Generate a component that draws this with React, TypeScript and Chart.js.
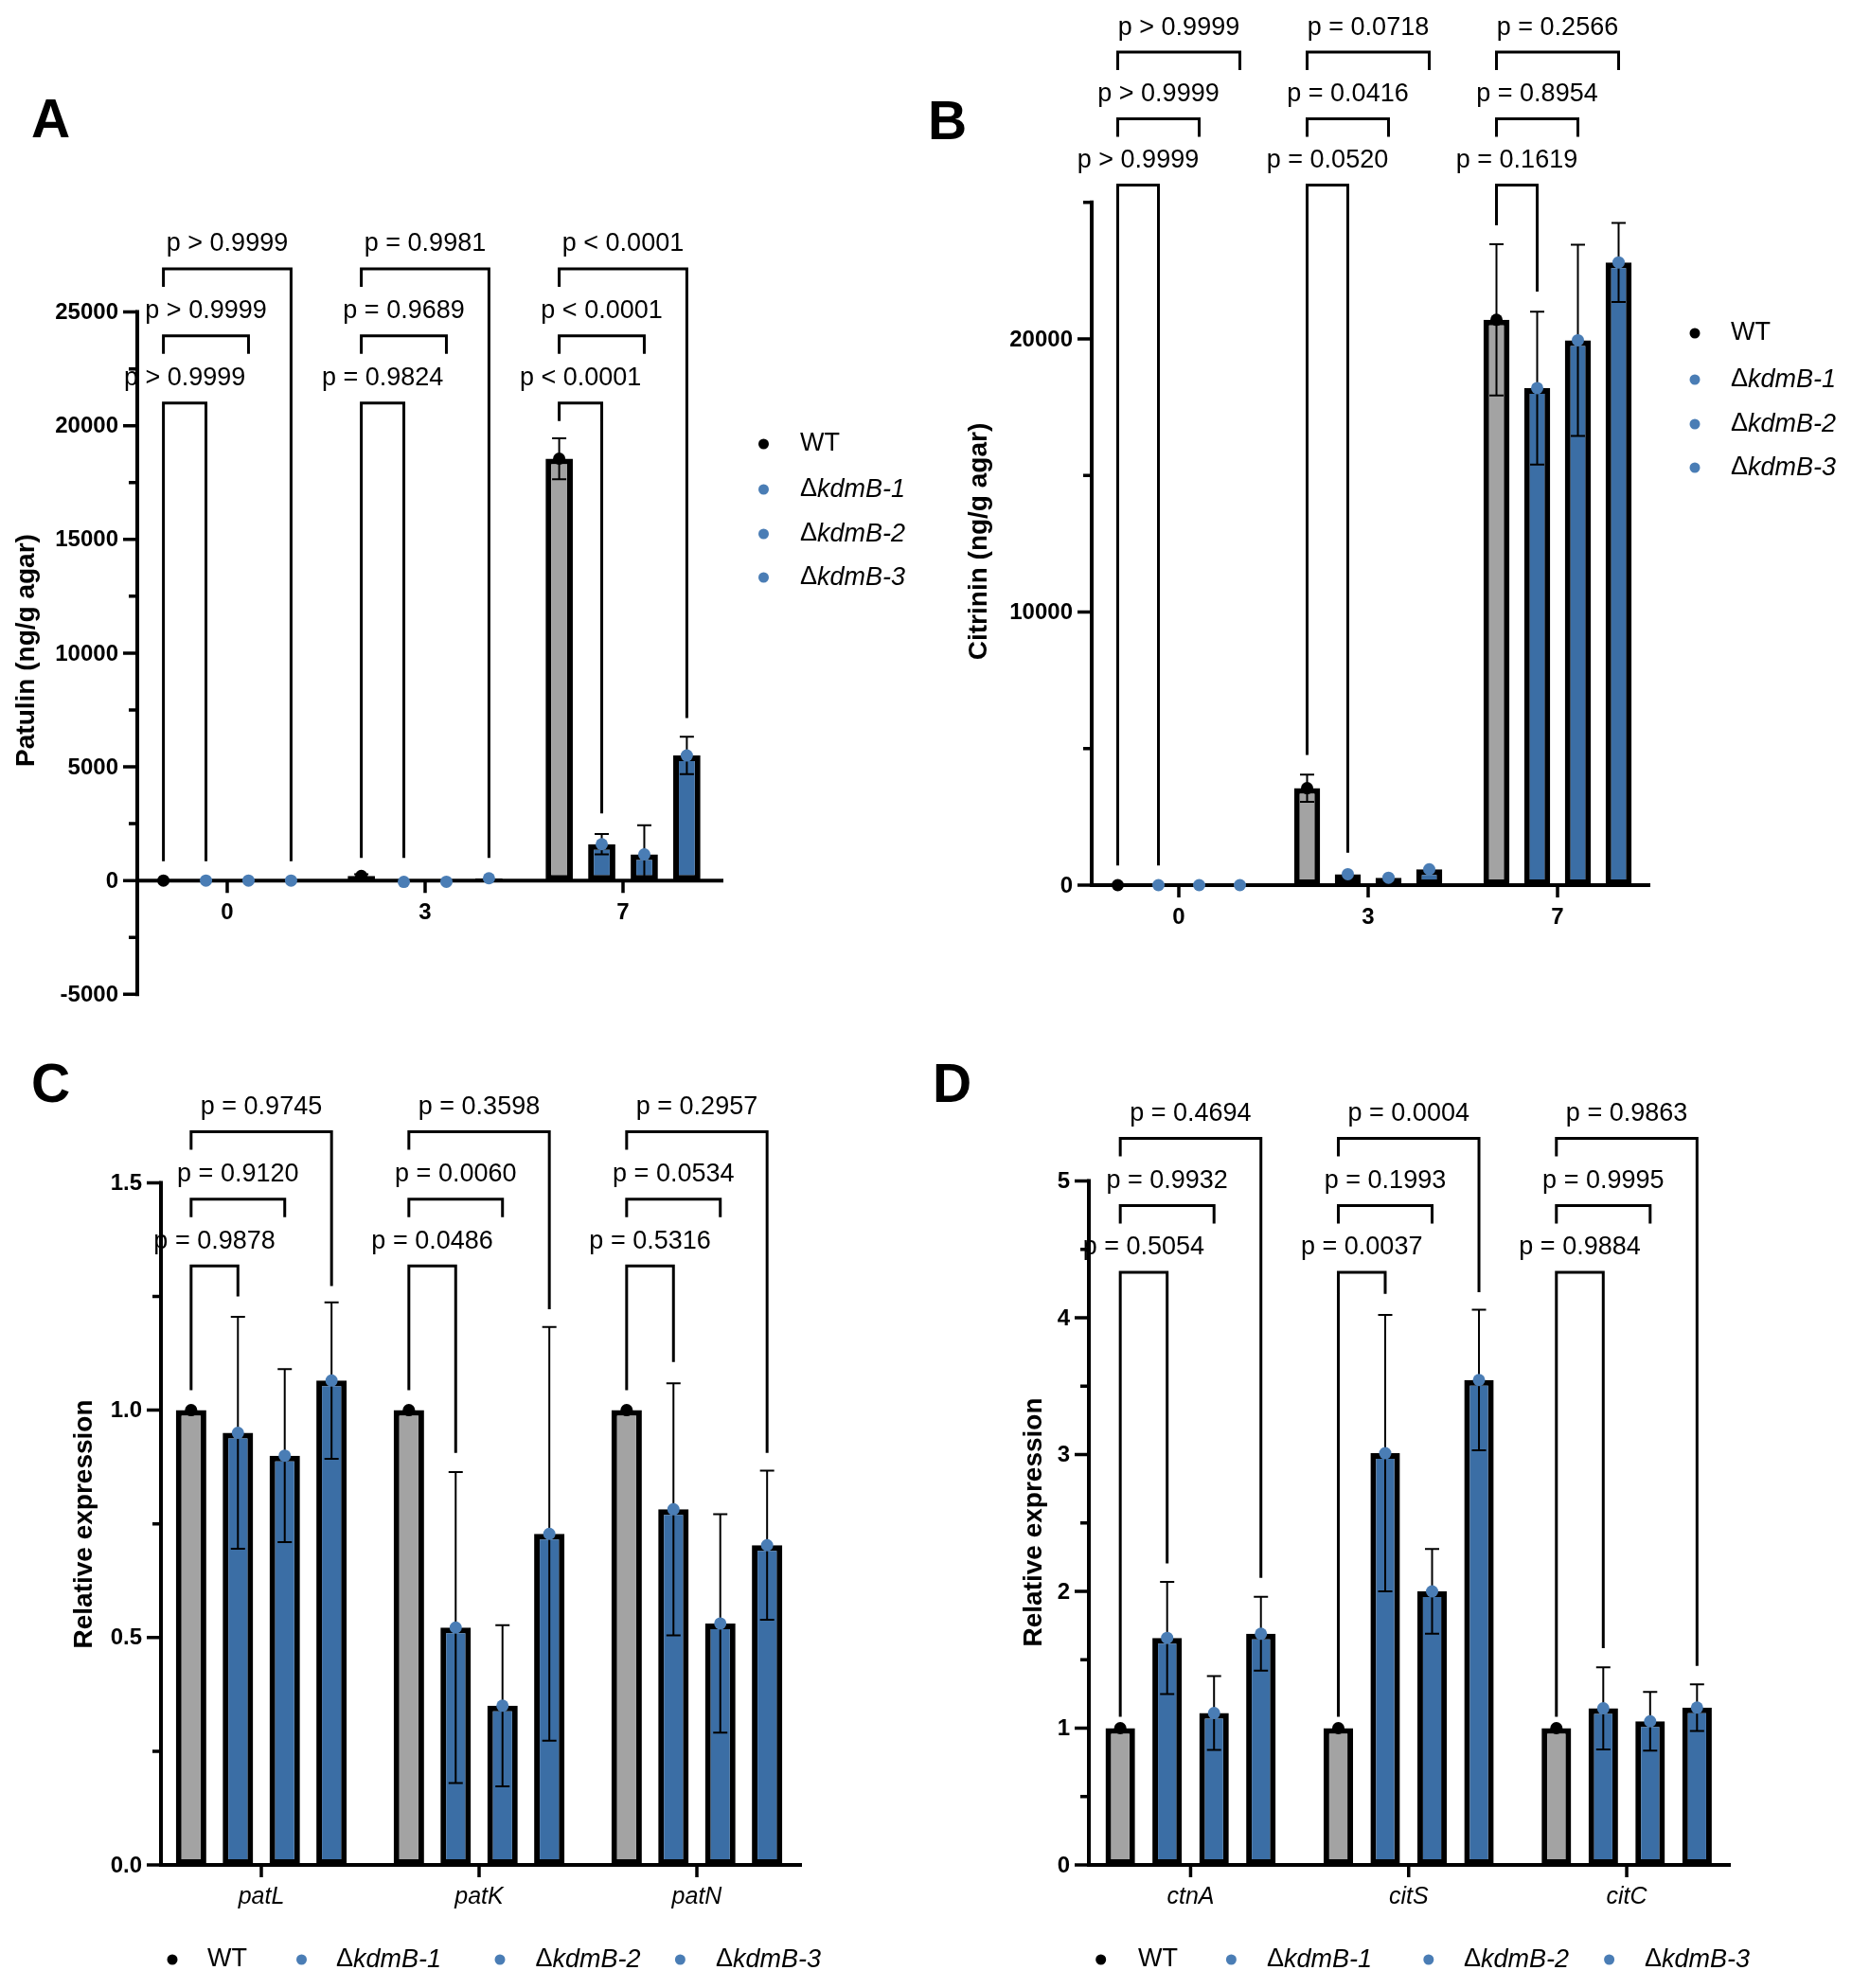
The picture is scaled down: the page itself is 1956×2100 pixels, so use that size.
import React, { useEffect, useRef } from 'react';
import { Chart, registerables } from 'chart.js';

Chart.register(...registerables);

const FONT = '"Liberation Sans", Arial, Helvetica, sans-serif';
const GREY = '#a3a3a3';
const BLUE = '#3b6ea5';
const DOT_BLUE = '#4a7db5';

const seriesLabels = ['WT', 'ΔkdmB-1', 'ΔkdmB-2', 'ΔkdmB-3'];

// ---------- Panel A : Patulin ----------
const daysA = ['0', '3', '7'];
const patulinWT = [0, 200, 18550];
const patulinK1 = [0, -60, 1600];
const patulinK2 = [0, -50, 1150];
const patulinK3 = [0, 100, 5500];
const patulinWTsd = [0, 80, 900];
const patulinK1sd = [0, 0, 450];
const patulinK2sd = [0, 0, 1280];
const patulinK3sd = [0, 0, 820];
const patulinP1 = ['p > 0.9999', 'p = 0.9824', 'p < 0.0001'];
const patulinP2 = ['p > 0.9999', 'p = 0.9689', 'p < 0.0001'];
const patulinP3 = ['p > 0.9999', 'p = 0.9981', 'p < 0.0001'];
const patulinBracketLevels = [21000, 23950, 26900];
const patulinLegs1 = [[850, 850], [1000, 1000], [null, 2950]];
const patulinLegs3 = [[null, 850], [null, 1000], [null, 7150]];
const patulinTicks = [-5000, 0, 5000, 10000, 15000, 20000, 25000];
const patulinMinorTicks = [-2500, 2500, 7500, 12500, 17500, 22500];

// ---------- Panel B : Citrinin ----------
const daysB = ['0', '3', '7'];
const citrininWT = [0, 3550, 20700];
const citrininK1 = [0, 400, 18200];
const citrininK2 = [0, 270, 19950];
const citrininK3 = [0, 580, 22800];
const citrininWTsd = [0, 500, 2770];
const citrininK1sd = [0, 0, 2800];
const citrininK2sd = [0, 0, 3500];
const citrininK3sd = [0, 0, 1450];
const citrininP1 = ['p > 0.9999', 'p = 0.0520', 'p = 0.1619'];
const citrininP2 = ['p > 0.9999', 'p = 0.0416', 'p = 0.8954'];
const citrininP3 = ['p > 0.9999', 'p = 0.0718', 'p = 0.2566'];
const citrininBracketLevels = [25630, 28060, 30500];
const citrininLegs1 = [[715, 715], [4770, 1190], [24160, 21730]];
const citrininTicks = [0, 10000, 20000];
const citrininMinorTicks = [5000, 15000, 25000];

// ---------- Panel C : patulin cluster genes ----------
const genesC = ['patL', 'patK', 'patN'];
const patWT = [1, 1, 1];
const patK1 = [0.95, 0.522, 0.782];
const patK2 = [0.9, 0.35, 0.531];
const patK3 = [1.065, 0.728, 0.703];
const patWTsd = [0, 0, 0];
const patK1sd = [0.255, 0.342, 0.277];
const patK2sd = [0.19, 0.177, 0.24];
const patK3sd = [0.172, 0.455, 0.164];
const patP1 = ['p = 0.9878', 'p = 0.0486', 'p = 0.5316'];
const patP2 = ['p = 0.9120', 'p = 0.0060', 'p = 0.0534'];
const patP3 = ['p = 0.9745', 'p = 0.3598', 'p = 0.2957'];
const patBracketLevels = [1.317, 1.464, 1.612];
const patLegs1 = [[1.044, 1.25], [1.044, 0.906], [1.044, 1.106]];
const patLegs3 = [[null, 1.273], [null, 1.222], [null, 0.906]];
const patTicks = [0, 0.5, 1.0, 1.5];
const patMinorTicks = [0.25, 0.75, 1.25];

// ---------- Panel D : citrinin cluster genes ----------
const genesD = ['ctnA', 'citS', 'citC'];
const citWT = [1, 1, 1];
const citK1 = [1.66, 3.01, 1.145];
const citK2 = [1.11, 2.0, 1.05];
const citK3 = [1.69, 3.545, 1.15];
const citWTsd = [0, 0, 0];
const citK1sd = [0.41, 1.01, 0.3];
const citK2sd = [0.27, 0.31, 0.215];
const citK3sd = [0.27, 0.513, 0.17];
const citP1 = ['p = 0.5054', 'p = 0.0037', 'p = 0.9884'];
const citP2 = ['p = 0.9932', 'p = 0.1993', 'p = 0.9995'];
const citP3 = ['p = 0.4694', 'p = 0.0004', 'p = 0.9863'];
const citBracketLevels = [4.332, 4.82, 5.312];
const citLegs1 = [[1.083, 2.205], [1.083, 4.174], [1.083, 1.584]];
const citLegs3 = [[null, 2.098], [null, 4.187], [null, 1.455]];
const citTicks = [0, 1, 2, 3, 4, 5];
const citMinorTicks = [0.5, 1.5, 2.5, 3.5, 4.5];

const W = 1956;
const H = 2100;

type Legs = (number | null)[][] | null;

interface Panel {
  id: string;
  categories: string[];
  series: number[][];
  errors: number[][];
  pValues: string[][];
  levels: number[];
  legs: Legs[];
  majorTicks: number[];
  minorTicks: number[];
  fmt: (v: number) => string;
  title: string;
  area: { left: number; right: number; top: number; bottom: number };
  yMin: number;
  yMax: number;
  axisX: number;
  xEnd: number;
  catFont: string;
  titlePos: [number, number];
  letterPos: [number, number];
  legend: { kind: 'column'; dotX: number; textX: number; ys: number[] } | { kind: 'row'; y: number; dotXs: number[]; textXs: number[] };
  barPct: number;
}

const panels: Panel[] = [
  {
    id: 'A',
    categories: daysA,
    series: [patulinWT, patulinK1, patulinK2, patulinK3],
    errors: [patulinWTsd, patulinK1sd, patulinK2sd, patulinK3sd],
    pValues: [patulinP1, patulinP2, patulinP3],
    levels: patulinBracketLevels,
    legs: [patulinLegs1, null, patulinLegs3],
    majorTicks: patulinTicks,
    minorTicks: patulinMinorTicks,
    fmt: (v) => String(v),
    title: 'Patulin (ng/g agar)',
    area: { left: 135.5, right: 762.5, top: 161.4, bottom: 1050.3 },
    yMin: -5000,
    yMax: 32000,
    axisX: 145,
    xEnd: 762,
    catFont: `bold 24px ${FONT}`,
    titlePos: [28, 687],
    letterPos: [33, 145],
    legend: { kind: 'column', dotX: 806.5, textX: 845, ys: [469, 517, 564, 610] },
    barPct: 0.64,
  },
  {
    id: 'B',
    categories: daysB,
    series: [citrininWT, citrininK1, citrininK2, citrininK3],
    errors: [citrininWTsd, citrininK1sd, citrininK2sd, citrininK3sd],
    pValues: [citrininP1, citrininP2, citrininP3],
    levels: citrininBracketLevels,
    legs: [citrininLegs1, null, null],
    majorTicks: citrininTicks,
    minorTicks: citrininMinorTicks,
    fmt: (v) => String(v),
    title: 'Citrinin (ng/g agar)',
    area: { left: 1145, right: 1745, top: 11.8, bottom: 935 },
    yMin: 0,
    yMax: 32000,
    axisX: 1153,
    xEnd: 1741,
    catFont: `bold 24px ${FONT}`,
    titlePos: [1034, 572],
    letterPos: [980, 147],
    legend: { kind: 'column', dotX: 1790, textX: 1828, ys: [352, 401, 448, 494] },
    barPct: 0.64,
  },
  {
    id: 'C',
    categories: genesC,
    series: [patWT, patK1, patK2, patK3],
    errors: [patWTsd, patK1sd, patK2sd, patK3sd],
    pValues: [patP1, patP2, patP3],
    levels: patBracketLevels,
    legs: [patLegs1, null, patLegs3],
    majorTicks: patTicks,
    minorTicks: patMinorTicks,
    fmt: (v) => v.toFixed(1),
    title: 'Relative expression',
    area: { left: 161, right: 851, top: 1009.2, bottom: 1970 },
    yMin: 0,
    yMax: 2.0,
    axisX: 170,
    xEnd: 845,
    catFont: `italic 25px ${FONT}`,
    titlePos: [89, 1610],
    letterPos: [33, 1164],
    legend: { kind: 'row', y: 2070, dotXs: [182, 318.5, 528, 718.4], textXs: [219, 355, 565.5, 756] },
    barPct: 0.65,
  },
  {
    id: 'D',
    categories: genesD,
    series: [citWT, citK1, citK2, citK3],
    errors: [citWTsd, citK1sd, citK2sd, citK3sd],
    pValues: [citP1, citP2, citP3],
    levels: citBracketLevels,
    legs: [citLegs1, null, citLegs3],
    majorTicks: citTicks,
    minorTicks: citMinorTicks,
    fmt: (v) => String(v),
    title: 'Relative expression',
    area: { left: 1142.3, right: 1833.2, top: 1030.75, bottom: 1970 },
    yMin: 0,
    yMax: 6.5,
    axisX: 1150,
    xEnd: 1826,
    catFont: `italic 25px ${FONT}`,
    titlePos: [1092.6, 1608],
    letterPos: [985, 1164],
    legend: { kind: 'row', y: 2070, dotXs: [1162.7, 1300.4, 1508.8, 1699.6], textXs: [1202, 1338, 1546, 1737] },
    barPct: 0.63,
  },
];

function drawSeriesLabel(ctx: CanvasRenderingContext2D, text: string, x: number, y: number) {
  ctx.textAlign = 'left';
  ctx.textBaseline = 'middle';
  ctx.fillStyle = '#000';
  if (text.startsWith('Δ')) {
    ctx.font = `27px ${FONT}`;
    ctx.fillText('Δ', x, y);
    const w = ctx.measureText('Δ').width;
    ctx.font = `italic 27px ${FONT}`;
    ctx.fillText(text.slice(1), x + w, y);
  } else {
    ctx.font = `27px ${FONT}`;
    ctx.fillText(text, x, y);
  }
}

function makePlugin(P: Panel) {
  return {
    id: 'extras' + P.id,
    afterDatasetsDraw(chart: any) {
      const ctx: CanvasRenderingContext2D = chart.ctx;
      const ys = chart.scales.y;
      const xs = chart.scales.x;
      const yp = (v: number) => ys.getPixelForValue(v);
      const metas = P.series.map((_, i) => chart.getDatasetMeta(i));
      const bx = (i: number, j: number) => metas[i].data[j].x as number;
      ctx.save();

      // error bars
      ctx.strokeStyle = '#000';
      ctx.lineWidth = 2;
      ctx.lineCap = 'butt';
      P.series.forEach((vals, i) =>
        vals.forEach((v, j) => {
          const e = P.errors[i][j];
          if (!e) return;
          const x = bx(i, j);
          const hi = v + e;
          const lo = v > 0 ? Math.max(0, v - e) : v - e;
          ctx.beginPath();
          ctx.moveTo(x, yp(hi));
          ctx.lineTo(x, yp(lo));
          ctx.moveTo(x - 7.5, yp(hi));
          ctx.lineTo(x + 7.5, yp(hi));
          if (lo > 0) {
            ctx.moveTo(x - 7.5, yp(lo));
            ctx.lineTo(x + 7.5, yp(lo));
          }
          ctx.stroke();
        })
      );

      // axes
      const allTicks = [...P.majorTicks, ...P.minorTicks];
      const yTopVal = Math.max(...allTicks);
      const yBotVal = Math.min(...allTicks);
      const y0 = yp(0);
      ctx.strokeStyle = '#000';
      ctx.lineWidth = 4;
      ctx.lineCap = 'square';
      ctx.beginPath();
      ctx.moveTo(P.axisX, yp(yTopVal));
      ctx.lineTo(P.axisX, yp(yBotVal));
      ctx.moveTo(P.axisX, y0);
      ctx.lineTo(P.xEnd, y0);
      ctx.stroke();
      ctx.lineCap = 'butt';
      ctx.lineWidth = 3.5;
      ctx.beginPath();
      P.majorTicks.forEach((v) => {
        ctx.moveTo(P.axisX - 15, yp(v));
        ctx.lineTo(P.axisX, yp(v));
      });
      P.minorTicks.forEach((v) => {
        ctx.moveTo(P.axisX - 9, yp(v));
        ctx.lineTo(P.axisX, yp(v));
      });
      P.categories.forEach((_, j) => {
        const x = xs.getPixelForValue(j);
        ctx.moveTo(x, y0);
        ctx.lineTo(x, y0 + 13);
      });
      ctx.stroke();

      // tick labels
      ctx.fillStyle = '#000';
      ctx.font = `bold 24px ${FONT}`;
      ctx.textAlign = 'right';
      ctx.textBaseline = 'middle';
      P.majorTicks.forEach((v) => ctx.fillText(P.fmt(v), P.axisX - 20, yp(v) + 1));
      ctx.font = P.catFont;
      ctx.textAlign = 'center';
      P.categories.forEach((c, j) => ctx.fillText(c, xs.getPixelForValue(j), y0 + 34));

      // axis title
      ctx.save();
      ctx.translate(P.titlePos[0], P.titlePos[1]);
      ctx.rotate(-Math.PI / 2);
      ctx.font = `bold 28px ${FONT}`;
      ctx.textAlign = 'center';
      ctx.textBaseline = 'middle';
      ctx.fillText(P.title, 0, 0);
      ctx.restore();

      // panel letter
      ctx.font = `bold 57px ${FONT}`;
      ctx.textAlign = 'left';
      ctx.textBaseline = 'alphabetic';
      ctx.fillText(P.id, P.letterPos[0], P.letterPos[1]);

      // brackets and p values
      ctx.lineWidth = 3;
      ctx.lineJoin = 'miter';
      ctx.lineCap = 'butt';
      P.levels.forEach((lvl, k) => {
        const legs = P.legs[k];
        P.categories.forEach((_, j) => {
          const xL = bx(0, j);
          const xR = bx(k + 1, j);
          const yb = yp(lvl);
          const lEnd = legs && legs[j][0] != null ? yp(legs[j][0] as number) : yb + 19;
          const rEnd = legs && legs[j][1] != null ? yp(legs[j][1] as number) : yb + 19;
          ctx.beginPath();
          ctx.moveTo(xL, lEnd);
          ctx.lineTo(xL, yb);
          ctx.lineTo(xR, yb);
          ctx.lineTo(xR, rEnd);
          ctx.stroke();
          ctx.font = `27px ${FONT}`;
          ctx.textAlign = 'center';
          ctx.textBaseline = 'middle';
          ctx.fillText(P.pValues[k][j], (xL + xR) / 2, yb - 26);
        });
      });

      // data dots
      P.series.forEach((vals, i) =>
        vals.forEach((v, j) => {
          ctx.beginPath();
          ctx.fillStyle = i === 0 ? '#000' : DOT_BLUE;
          ctx.arc(bx(i, j), yp(v), 6.5, 0, Math.PI * 2);
          ctx.fill();
        })
      );

      // legend
      seriesLabels.forEach((lab, i) => {
        const L = P.legend;
        let dx: number, tx: number, ly: number;
        if (L.kind === 'column') {
          dx = L.dotX;
          tx = L.textX;
          ly = L.ys[i];
        } else {
          dx = L.dotXs[i];
          tx = L.textXs[i];
          ly = L.y;
        }
        ctx.beginPath();
        ctx.fillStyle = i === 0 ? '#000' : DOT_BLUE;
        ctx.arc(dx, ly, 5.5, 0, Math.PI * 2);
        ctx.fill();
        drawSeriesLabel(ctx, lab, tx, ly);
      });

      ctx.restore();
    },
  };
}

function PanelChart({ P }: { P: Panel }) {
  const ref = useRef<HTMLCanvasElement | null>(null);
  useEffect(() => {
    if (!ref.current) return;
    const datasets = P.series.map((vals, i) => ({
      label: seriesLabels[i],
      data: vals,
      backgroundColor: i === 0 ? GREY : BLUE,
      borderColor: '#000',
      borderWidth: 6,
      borderSkipped: false as const,
      categoryPercentage: 0.86,
      barPercentage: P.barPct,
    }));
    const chart = new Chart(ref.current, {
      type: 'bar',
      data: { labels: P.categories, datasets },
      options: {
        animation: false,
        responsive: false,
        devicePixelRatio: 1,
        events: [],
        layout: {
          padding: {
            left: P.area.left,
            right: W - P.area.right,
            top: P.area.top,
            bottom: H - P.area.bottom,
          },
        },
        plugins: { legend: { display: false }, tooltip: { enabled: false } },
        scales: {
          x: { type: 'category', display: false, offset: true },
          y: { type: 'linear', display: false, min: P.yMin, max: P.yMax },
        },
      },
      plugins: [makePlugin(P)],
    } as any);
    return () => chart.destroy();
  }, [P]);
  return (
    <canvas
      ref={ref}
      width={W}
      height={H}
      style={{ position: 'absolute', left: 0, top: 0, width: W, height: H, pointerEvents: 'none' }}
    />
  );
}

export default function App() {
  return (
    <div style={{ position: 'relative', width: W, height: H, background: '#fff', overflow: 'hidden' }}>
      <style>{`html,body{margin:0;padding:0;background:#fff;}`}</style>
      {panels.map((P) => (
        <PanelChart key={P.id} P={P} />
      ))}
    </div>
  );
}
